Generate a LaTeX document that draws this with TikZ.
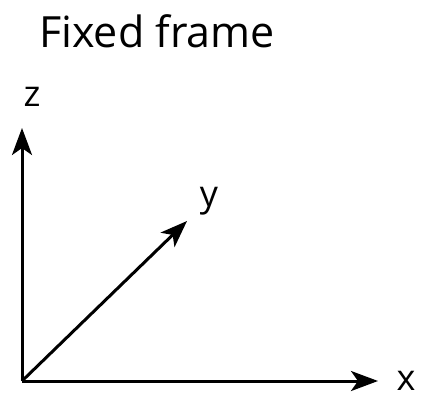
\documentclass[tikz,border=0pt]{standalone}
\usepackage{fontspec}
\setmainfont{Open Sans}
\usetikzlibrary{arrows.meta}
\begin{document}
\begin{tikzpicture}[x=1pt,y=-1pt,
  axis/.style={line width=3pt,-{Stealth[length=27pt,width=20pt,inset=7pt]}},
  lbl/.style={font=\fontsize{36}{40}\selectfont,inner sep=0pt}]
\useasboundingbox (0,0) rectangle (423,400);
\node[font=\fontsize{43}{48}\selectfont,inner sep=0pt] (title) at (157,31) {Fixed frame};
\coordinate (o) at (22,381);
\coordinate (zt) at (22,128);
\coordinate (xt) at (378,381);
\coordinate (yt) at (187,221);
\draw[axis] (o) -- (zt);
\draw[axis] (o) -- (xt);
\draw[axis] (o) -- (yt);
\node[lbl] (zl) at (32,97) {z};
\node[lbl] (yl) at (209,201) {y};
\node[lbl] (xl) at (406,381) {x};
\end{tikzpicture}
\end{document}
